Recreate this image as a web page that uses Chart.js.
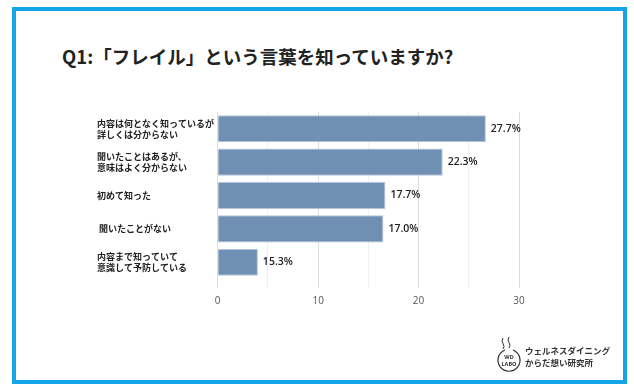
<!DOCTYPE html>
<html><head><meta charset="utf-8">
<script src="https://cdn.jsdelivr.net/npm/chart.js@4"></script>
<style>
html,body{margin:0;padding:0;background:#fff;width:634px;height:389px;overflow:hidden}
#frame{position:absolute;left:12px;top:7px;width:607px;height:369px;border:4px solid #14a5e8;}
#title{position:absolute;left:62px;top:44px;font:bold 18.5px "Noto Sans CJK JP";color:#222;white-space:nowrap;line-height:24px}
canvas{position:absolute;left:0;top:0}
#logo{position:absolute;left:494px;top:334px}
#logotext{position:absolute;left:525px;top:344px;font:bold 8.5px "Noto Sans CJK JP";color:#333;line-height:12px;white-space:nowrap}
</style></head>
<body>
<div id="frame"></div>
<div id="title">Q1:「フレイル」という言葉を知っていますか?</div>
<canvas id="c" width="634" height="389"></canvas>
<svg id="logo" width="30" height="40">
 <path d="M9 4 q-2 3 0 5.5 q2 3 0 5.5" stroke="#333" fill="none" stroke-width="1"/>
 <path d="M15 3 q-2 3 0 5.5 q2 3 0 5.5" stroke="#333" fill="none" stroke-width="1"/>
 <path d="M11 16 A11 11 0 1 0 19 16" stroke="#333" fill="none" stroke-width="1.2"/>
 <text x="15" y="25" font-size="5.5" text-anchor="middle" font-weight="bold" font-family="Noto Sans" fill="#333">WD</text>
 <text x="15" y="31.5" font-size="5.5" text-anchor="middle" font-weight="bold" font-family="Noto Sans" fill="#333">LABO</text>
</svg>
<div id="logotext">ウェルネスダイニング<br>からだ想い研究所</div>
<script>
const categories = [
  ["内容は何となく知っているが", "詳しくは分からない"],
  ["聞いたことはあるが、", "意味はよく分からない"],
  ["初めて知った"],
  [" 聞いたことがない"],
  ["内容まで知っていて", "意識して予防している"]
];
const barValues = [26.7, 22.4, 16.7, 16.5, 4.0];
const valueLabels = ["27.7%", "22.3%", "17.7%", "17.0%", "15.3%"];
const xTickLabels = [0, 10, 20, 30];

Chart.defaults.font.family = '"Noto Sans CJK JP", "Noto Sans", sans-serif';

const valueLabelPlugin = {
  id: 'valueLabels',
  afterDatasetsDraw(chart) {
    const ctx = chart.ctx;
    const meta = chart.getDatasetMeta(0);
    ctx.save();
    ctx.font = '600 10.5px "Open Sans"';
    ctx.fillStyle = '#222';
    ctx.textBaseline = 'middle';
    ctx.textAlign = 'left';
    meta.data.forEach((el, i) => ctx.fillText(valueLabels[i], el.x + 5, el.y));
    ctx.restore();
  }
};

new Chart(document.getElementById('c'), {
  type: 'bar',
  data: {
    labels: categories,
    datasets: [{
      data: barValues,
      backgroundColor: '#6f8fb3',
      borderColor: '#b4c5d9',
      borderWidth: 1,
      barPercentage: 0.9,
      categoryPercentage: 0.9
    }]
  },
  options: {
    indexAxis: 'y',
    responsive: false,
    animation: false,
    layout: { padding: { left: 97, right: 115, top: 112, bottom: 82 } },
    plugins: { legend: { display: false }, tooltip: { enabled: false } },
    scales: {
      x: {
        min: 0, max: 30,
        border: { display: false },
        grid: {
          color: c => (c.tick && c.tick.value % 10 === 0) ? '#dcdcdc' : '#f1f1f1',
          tickLength: 9
        },
        ticks: {
          stepSize: 5,
          autoSkip: false,
          padding: 7,
          color: '#555',
          font: { size: 10, family: '"Open Sans"' },
          callback: v => xTickLabels.includes(v) ? String(v) : ''
        },
        afterFit: s => { s.height = 28; }
      },
      y: {
        border: { display: false },
        grid: { display: false, drawTicks: false },
        ticks: {
          crossAlign: 'far',
          padding: 0,
          color: '#222',
          font: { size: 9, weight: 'bold', lineHeight: 1.2 }
        },
        afterFit: s => { s.width = 120.7; }
      }
    }
  },
  plugins: [valueLabelPlugin]
});
</script>
</body></html>
